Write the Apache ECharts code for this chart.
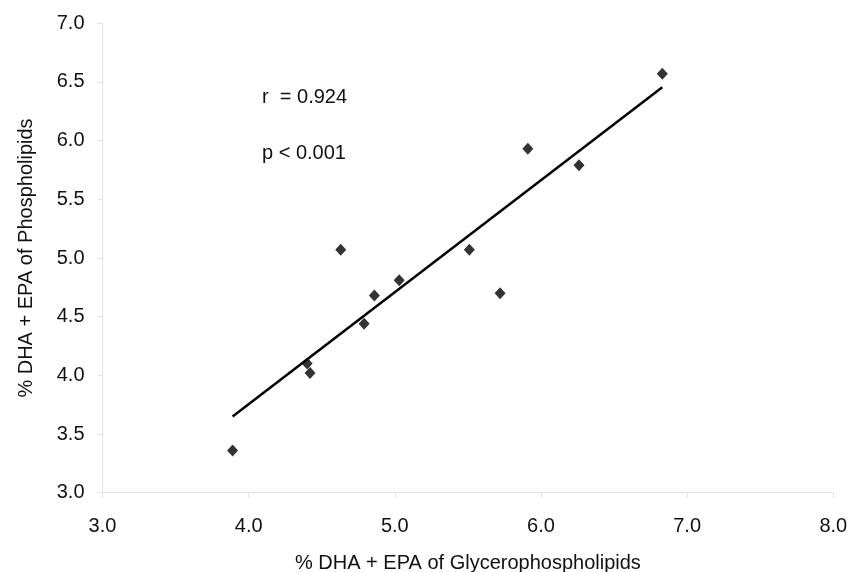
<!DOCTYPE html>
<html>
<head>
<meta charset="utf-8">
<script src="https://cdn.jsdelivr.net/npm/echarts@6/dist/echarts.min.js"></script>
<style>
html,body{margin:0;padding:0;background:#fff;}
#chart{width:850px;height:572px;}
</style>
</head>
<body>
<div id="chart"></div>
<script>
// Data
var xValues = [3.89, 4.63, 5.03, 4.86, 4.79, 4.40, 4.42, 5.51, 5.72, 5.91, 6.26, 6.83];
var yValues = [3.36, 5.07, 4.81, 4.68, 4.44, 4.10, 4.02, 5.07, 4.70, 5.93, 5.79, 6.57];
var fitX = [3.89, 6.83];
var fitY = [3.65, 6.455];
var annotations = ["r  = 0.924", "p < 0.001"];
var xTitle = "% DHA + EPA of Glycerophospholipids";
var yTitle = "% DHA + EPA of Phospholipids";

var points = xValues.map(function (x, i) { return [x, yValues[i]]; });
var fitLine = fitX.map(function (x, i) { return [x, fitY[i]]; });

var font = "'Liberation Sans', Arial, sans-serif";
var axisGray = '#e3e3e3';

var chart = echarts.init(document.getElementById('chart'));
chart.setOption({
  animation: false,
  backgroundColor: '#fff',
  grid: { left: 102.5, right: 16.7, top: 23.3, bottom: 79.3, containLabel: false, outerBoundsMode: 'none' },
  xAxis: {
    type: 'value', min: 3, max: 8, interval: 1,
    name: xTitle, nameLocation: 'middle', nameGap: 61,
    nameTextStyle: { fontFamily: font, fontSize: 20, color: '#111' },
    axisLine: { show: true, lineStyle: { color: axisGray, width: 1 } },
    axisTick: { show: true, length: 5, lineStyle: { color: axisGray } },
    axisLabel: { fontFamily: font, fontSize: 20, color: '#111', margin: 24,
      formatter: function (v) { return v.toFixed(1); } },
    splitLine: { show: false }
  },
  yAxis: {
    type: 'value', min: 3, max: 7, interval: 0.5,
    name: yTitle, nameLocation: 'middle', nameGap: 66, nameRotate: 90,
    nameTextStyle: { fontFamily: font, fontSize: 20, color: '#111' },
    axisLine: { show: true, lineStyle: { color: axisGray, width: 1 } },
    axisTick: { show: true, length: 5, lineStyle: { color: axisGray } },
    axisLabel: { fontFamily: font, fontSize: 20, color: '#111', margin: 18,
      formatter: function (v) { return v.toFixed(1); } },
    splitLine: { show: false }
  },
  graphic: [
    { type: 'text', left: 262, top: 87, style: { text: annotations[0], font: '20px ' + font, fill: '#111' } },
    { type: 'text', left: 262, top: 143, style: { text: annotations[1], font: '20px ' + font, fill: '#111' } }
  ],
  series: [
    {
      type: 'line', data: fitLine, symbol: 'none',
      lineStyle: { color: '#000', width: 2.5 }, z: 2
    },
    {
      type: 'scatter', data: points, symbol: 'diamond', symbolSize: [11, 12],
      itemStyle: { color: '#000' }, z: 3
    }
  ]
});
</script>
</body>
</html>
